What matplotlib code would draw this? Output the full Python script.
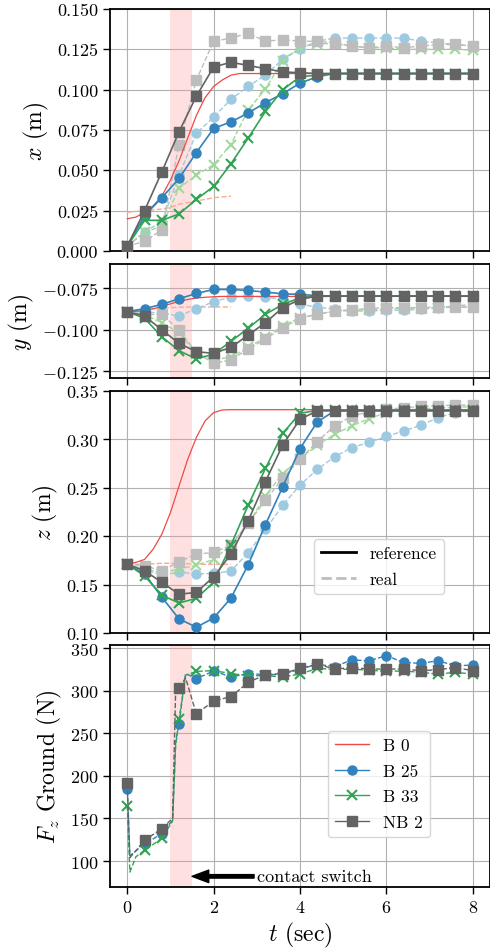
import numpy as np
import matplotlib
matplotlib.use("Agg")
import matplotlib.pyplot as plt
from matplotlib.lines import Line2D

plt.rcParams['font.family'] = 'serif'
plt.rcParams['font.serif'] = ['cmr10']
plt.rcParams['mathtext.fontset'] = 'cm'
plt.rcParams['axes.formatter.use_mathtext'] = True

# marker time stamps (sec)
t = [0.0, 0.4, 0.8, 1.2, 1.6, 2.0, 2.4, 2.8, 3.2, 3.6, 4.0,
     4.4, 4.8, 5.2, 5.6, 6.0, 6.4, 6.8, 7.2, 7.6, 8.0]
# B 0 reference (no markers) and its short real run
t_b0 = [0.0, 0.2, 0.4, 0.6, 0.8, 1.0, 1.2, 1.4, 1.6, 1.8, 2.0, 2.2, 2.4, 2.6, 2.8, 8.0]
t_b0_real = [0.0, 0.4, 0.8, 1.0, 1.2, 1.6, 2.0, 2.4]

# x (m)
x_b0_ref = [0.020, 0.021, 0.024, 0.028, 0.034, 0.044, 0.056, 0.070, 0.084, 0.095,
            0.102, 0.106, 0.109, 0.110, 0.110, 0.110]
x_b0_real = [0.024, 0.025, 0.026, 0.027, 0.029, 0.031, 0.033, 0.034]
x_b25_ref = [0.003, 0.022, 0.033, 0.045, 0.061, 0.076, 0.080, 0.0855, 0.092, 0.0975, 0.104,
             0.108, 0.110, 0.110, 0.110, 0.110, 0.110, 0.110, 0.110, 0.110, 0.110]
x_b25_real = [0.003, 0.012, 0.018, 0.047, 0.073, 0.083, 0.094, 0.102, 0.109, 0.119, 0.1255,
              0.130, 0.132, 0.132, 0.132, 0.132, 0.132, 0.130, 0.129, 0.128, 0.127]
x_b33_ref = [0.003, 0.019, 0.019, 0.023, 0.032, 0.040, 0.054, 0.070, 0.0865, 0.100, 0.108,
             0.109, 0.110, 0.110, 0.110, 0.110, 0.110, 0.110, 0.110, 0.110, 0.110]
x_b33_real = [0.003, 0.0115, 0.0155, 0.039, 0.047, 0.0535, 0.066, 0.0875, 0.1005, 0.118, 0.126,
              0.1285, 0.1285, 0.127, 0.126, 0.126, 0.125, 0.125, 0.125, 0.125, 0.1245]
x_nb2_ref = [0.003, 0.025, 0.049, 0.074, 0.096, 0.114, 0.117, 0.115, 0.113, 0.111, 0.1105,
             0.110, 0.110, 0.110, 0.110, 0.110, 0.110, 0.110, 0.110, 0.110, 0.110]
x_nb2_real = [0.003, 0.006, 0.013, 0.066, 0.106, 0.130, 0.132, 0.135, 0.130, 0.131, 0.130,
              0.130, 0.129, 0.127, 0.126, 0.127, 0.126, 0.127, 0.128, 0.128, 0.127]

# y (m)
y_b0_ref = [-0.0892, -0.0890, -0.0885, -0.0875, -0.0860, -0.0845, -0.0830, -0.0818, -0.0810,
            -0.0805, -0.0802, -0.0800, -0.0800, -0.0800, -0.0800, -0.0800]
y_b0_real = [-0.0890, -0.0880, -0.0870, -0.0868, -0.0865, -0.0864, -0.0864, -0.0864]
y_b25_ref = [-0.0892, -0.0874, -0.0848, -0.0814, -0.0782, -0.0758, -0.0758, -0.0764, -0.0774,
             -0.0784, -0.0788, -0.0795, -0.0798, -0.0798, -0.0798, -0.0798, -0.0798, -0.0798,
             -0.0798, -0.0798, -0.0798]
y_b25_real = [-0.0892, -0.0895, -0.0900, -0.0918, -0.0874, -0.0832, -0.0804, -0.0798, -0.0804,
              -0.0818, -0.0848, -0.0864, -0.0878, -0.0888, -0.0888, -0.0884, -0.0884, -0.0878,
              -0.0868, -0.0858, -0.0848]
y_b33_ref = [-0.0892, -0.0932, -0.1044, -0.1128, -0.1178, -0.1148, -0.1072, -0.0992, -0.0908,
             -0.0848, -0.0808, -0.0800, -0.0798, -0.0798, -0.0798, -0.0798, -0.0798, -0.0798,
             -0.0798, -0.0798, -0.0798]
y_b33_real = [-0.0892, -0.0910, -0.0960, -0.1018, -0.1148, -0.1180, -0.1168, -0.1108, -0.1048,
              -0.0978, -0.0928, -0.0908, -0.0890, -0.0885, -0.0880, -0.0876, -0.0872, -0.0870,
              -0.0868, -0.0866, -0.0864]
y_nb2_ref = [-0.0892, -0.0918, -0.1002, -0.1084, -0.1134, -0.1144, -0.1108, -0.1034, -0.0958,
             -0.0868, -0.0818, -0.0798, -0.0798, -0.0798, -0.0798, -0.0798, -0.0798, -0.0798,
             -0.0798, -0.0798, -0.0798]
y_nb2_real = [-0.0892, -0.0910, -0.0908, -0.1004, -0.1138, -0.1204, -0.1184, -0.1118, -0.1058,
              -0.0988, -0.0934, -0.0908, -0.0888, -0.0882, -0.0872, -0.0868, -0.0868, -0.0868,
              -0.0864, -0.0864, -0.0864]

# z (m)
z_b0_ref = [0.171, 0.173, 0.176, 0.1866, 0.202, 0.2245, 0.252, 0.2795, 0.302, 0.319,
            0.3277, 0.3304, 0.3307, 0.3307, 0.3307, 0.3307]
z_b0_real = [0.171, 0.171, 0.172, 0.172, 0.172, 0.171, 0.171, 0.171]
z_b25_ref = [0.171, 0.161, 0.137, 0.1145, 0.106, 0.1155, 0.136, 0.1705, 0.212, 0.251, 0.2905,
             0.318, 0.3295, 0.330, 0.330, 0.330, 0.330, 0.330, 0.330, 0.330, 0.330]
z_b25_real = [0.171, 0.165, 0.160, 0.163, 0.161, 0.1615, 0.164, 0.183, 0.207, 0.232, 0.2527,
              0.269, 0.282, 0.2915, 0.297, 0.303, 0.3087, 0.3146, 0.3225, 0.3277, 0.3295]
z_b33_ref = [0.171, 0.159, 0.139, 0.131, 0.1358, 0.1523, 0.1908, 0.232, 0.270, 0.3063, 0.327,
             0.330, 0.330, 0.330, 0.330, 0.330, 0.330, 0.330, 0.330, 0.330, 0.330]
z_b33_real = [0.171, 0.166, 0.1625, 0.166, 0.170, 0.176, 0.1908, 0.213, 0.2417, 0.2647, 0.280,
              0.294, 0.3053, 0.314, 0.3215, 0.3277, 0.330, 0.3315, 0.3325, 0.333, 0.334]
z_nb2_ref = [0.171, 0.1643, 0.1523, 0.140, 0.142, 0.158, 0.1815, 0.216, 0.2565, 0.2943, 0.3208,
             0.3295, 0.3295, 0.3295, 0.3295, 0.3295, 0.3295, 0.3295, 0.3295, 0.3295, 0.3295]
z_nb2_real = [0.171, 0.1695, 0.1643, 0.1736, 0.1815, 0.1832, 0.1908, 0.2135, 0.237, 0.260, 0.2795,
              0.2977, 0.314, 0.324, 0.3287, 0.331, 0.3328, 0.334, 0.335, 0.3353, 0.3355]

# ground reaction force (N), measured only
t_f = [0.0, 0.06, 0.2, 0.4, 0.8, 1.05, 1.12, 1.2, 1.35, 1.6, 2.0, 2.4, 2.8, 3.2, 3.6, 4.0,
       4.4, 4.8, 5.2, 5.6, 6.0, 6.4, 6.8, 7.2, 7.6, 8.0]
f_b25 = [185, 106, 112, 120, 132, 148, 240, 261, 320, 314, 323, 316, 320, 318.6, 319, 325,
         331, 328, 336, 335, 341, 333, 332, 335, 329, 330]
f_b33 = [165, 87, 105, 112.5, 126.6, 147, 235, 266.5, 318, 322.6, 323.4, 320, 317.5, 317.5, 316,
         319.4, 326, 325, 325, 324, 322.6, 323, 321.4, 319.4, 321.4, 319.4]
f_nb2 = [191, 104, 112, 124.3, 138, 150, 300, 302.6, 315, 272.4, 288, 292.8, 309.6, 318.6, 320,
         326, 331, 325.3, 327, 325.3, 325.3, 325.3, 323.4, 324.5, 327, 323.4]

names = ["B 0", "B 25", "B 33", "NB 2"]
contact_window = (1.0, 1.5)

red, red_light = '#ee4a44', '#fcab8f'
blue, blue_light = '#3182bd', '#9ecae1'
green, green_light = '#31a354', '#a1d99b'
grey, grey_light = '#636363', '#bdbdbd'

TICK = 13
LAB = 17

W, H = 490, 953
fig = plt.figure(figsize=(W / 100, H / 100), dpi=100)


def make_axes(top, bottom):
    ax = fig.add_axes([110 / W, (H - bottom) / H, 380 / W, (bottom - top) / H])
    ax.set_xlim(-0.4, 8.4)
    ax.set_xticks([0, 2, 4, 6, 8])
    ax.grid(True, color='#b0b0b0', lw=0.8)
    ax.set_axisbelow(True)
    ax.axvspan(*contact_window, color='#ff9999', alpha=0.3, lw=0, zorder=1)
    ax.tick_params(labelsize=TICK, length=5, width=1)
    for s in ax.spines.values():
        s.set_linewidth(1.3)
    return ax


def draw_state(ax, b0_ref, b0_real, b25, b33, nb2):
    ax.plot(t_b0_real, b0_real, '--', color=red_light, lw=1.0, zorder=2)
    ax.plot(t, b25[1], '--', color=blue_light, lw=1.0, marker='o', ms=6.5, zorder=2)
    ax.plot(t, b33[1], '--', color=green_light, lw=1.0, marker='x', ms=6.5, mew=1.5, zorder=2)
    ax.plot(t, nb2[1], '--', color=grey_light, lw=1.0, marker='s', ms=6.5, zorder=2)
    ax.plot(t_b0, b0_ref, '-', color=red, lw=0.9, zorder=3)
    ax.plot(t, b25[0], '-', color=blue, lw=1.2, marker='o', ms=6.5, zorder=3)
    ax.plot(t, b33[0], '-', color=green, lw=1.2, marker='x', ms=6.5, mew=1.5, zorder=3)
    ax.plot(t, nb2[0], '-', color=grey, lw=1.2, marker='s', ms=6.5, zorder=3)
    ax.tick_params(labelbottom=False)


# x
ax1 = make_axes(10, 252)
draw_state(ax1, x_b0_ref, x_b0_real, (x_b25_ref, x_b25_real),
           (x_b33_ref, x_b33_real), (x_nb2_ref, x_nb2_real))
ax1.set_ylim(0, 0.15)
ax1.set_yticks([0.0, 0.025, 0.05, 0.075, 0.1, 0.125, 0.15])
ax1.set_yticklabels(["%.3f" % v for v in ax1.get_yticks()])
ax1.set_ylabel("$x$ (m)", fontsize=LAB)

# y
ax2 = make_axes(265, 379)
draw_state(ax2, y_b0_ref, y_b0_real, (y_b25_ref, y_b25_real),
           (y_b33_ref, y_b33_real), (y_nb2_ref, y_nb2_real))
ax2.set_ylim(-0.1293, -0.0604)
ax2.set_yticks([-0.125, -0.1, -0.075])
ax2.set_yticklabels([r"$-0.125$", r"$-0.100$", r"$-0.075$"])
ax2.set_ylabel("$y$ (m)", fontsize=LAB)

# z
ax3 = make_axes(392, 634)
draw_state(ax3, z_b0_ref, z_b0_real, (z_b25_ref, z_b25_real),
           (z_b33_ref, z_b33_real), (z_nb2_ref, z_nb2_real))
ax3.set_ylim(0.10, 0.35)
ax3.set_yticks([0.10, 0.15, 0.20, 0.25, 0.30, 0.35])
ax3.set_yticklabels(["%.2f" % v for v in ax3.get_yticks()])
ax3.set_ylabel("$z$ (m)", fontsize=LAB)
kind_handles = [Line2D([], [], color='black', lw=2, ls='-'),
                Line2D([], [], color=grey_light, lw=2, ls='--')]
ax3.legend(kind_handles, ["reference", "real"], loc='lower left',
           bbox_to_anchor=(0.515, 0.125), fontsize=12.5, labelspacing=0.6)

# ground force
ax4 = make_axes(646, 888)
marks = [i for i, v in enumerate(t_f) if abs(v / 0.4 - round(v / 0.4)) < 1e-6]
ax4.plot(t_f, f_b25, '--', color=blue, lw=1.0, marker='o', ms=6.5, markevery=marks, zorder=3)
ax4.plot(t_f, f_b33, '--', color=green, lw=1.0, marker='x', ms=6.5, mew=1.5, markevery=marks, zorder=3)
ax4.plot(t_f, f_nb2, '--', color=grey, lw=1.0, marker='s', ms=6.5, markevery=marks, zorder=3)
ax4.set_ylim(69.5, 353.5)
ax4.set_yticks([100, 150, 200, 250, 300, 350])
ax4.set_ylabel("$F_z$ Ground (N)", fontsize=LAB)
ax4.set_xlabel("$t$ (sec)", fontsize=LAB)
run_handles = [Line2D([], [], color=red, lw=1.0),
               Line2D([], [], color=blue, lw=1.0, marker='o', ms=6.5),
               Line2D([], [], color=green, lw=1.0, marker='x', ms=6.5, mew=1.5),
               Line2D([], [], color=grey, lw=1.0, marker='s', ms=6.5)]
ax4.legend(run_handles, names, loc='lower left', bbox_to_anchor=(0.55, 0.17),
           fontsize=12.5, labelspacing=0.6)
ax4.annotate("contact switch", xy=(contact_window[1], 82), xytext=(3.0, 82),
             fontsize=13, va='center', ha='left',
             arrowprops=dict(facecolor='black', edgecolor='black', width=2.5,
                             headwidth=9, headlength=12, shrink=0))

fig.savefig("out.png", dpi=100)
